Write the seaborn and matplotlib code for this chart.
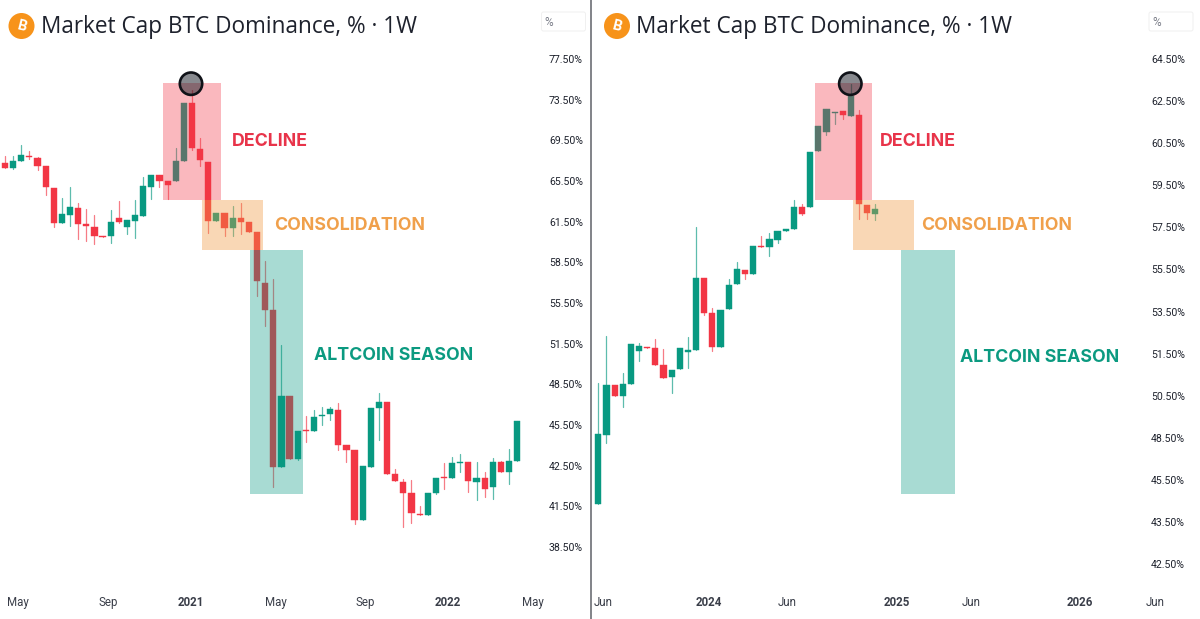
import numpy as np
import pandas as pd
import matplotlib
matplotlib.use('Agg')
import matplotlib.pyplot as plt
from matplotlib.patches import Rectangle, Circle, FancyBboxPatch
import seaborn as sns

sns.set_style("white")
plt.rcParams['font.family'] = ['Roboto', 'DejaVu Sans']

# left chart, weekly candles 2020-2022
left_open = [67.26, 66.77, 67.45, 67.94, 67.71, 66.96, 64.84, 61.38, 62.19, 62.81, 61.31, 61.11, 60.44, 60.46, 61.86, 61.13,
             61.54, 62.09, 64.90, 66.05, 65.46, 65.49, 67.45, 73.14, 68.60, 67.39, 61.60, 62.35, 61.03, 61.89, 61.46, 60.71,
             57.01, 54.78, 42.47, 47.67, 42.97, 45.13, 45.03, 46.14, 46.29, 46.61, 44.00, 43.68, 40.52, 42.47, 46.76, 47.16,
             42.30, 42.09, 41.82, 40.94, 40.89, 41.82, 42.22, 42.20, 42.69, 42.74, 42.11, 42.20, 41.97, 42.74, 42.35, 42.84]
left_close = [66.77, 67.45, 68.01, 67.81, 67.00, 64.90, 61.41, 62.22, 62.97, 61.36, 61.18, 60.46, 60.39, 61.51, 61.50, 61.63,
              62.16, 65.00, 66.11, 65.49, 65.07, 67.42, 73.14, 68.73, 67.58, 61.57, 62.38, 61.06, 61.89, 61.50, 60.71, 57.11,
              54.81, 42.47, 47.67, 42.97, 45.08, 45.05, 46.12, 46.22, 46.66, 44.00, 43.65, 40.52, 42.49, 46.76, 47.20, 42.30,
              42.12, 41.83, 40.98, 40.86, 41.82, 42.20, 42.20, 42.67, 42.77, 42.12, 42.20, 41.93, 42.74, 42.35, 42.84, 45.82]
left_high = [67.94, 67.94, 68.99, 68.43, 67.81, 66.96, 64.84, 63.79, 64.87, 63.30, 62.78, 62.12, 60.44, 62.65, 63.56, 61.63,
             63.63, 65.92, 66.11, 66.05, 65.46, 68.70, 73.14, 74.42, 69.77, 67.39, 62.38, 62.35, 63.07, 63.37, 61.46, 60.71,
             58.60, 57.25, 51.43, 47.67, 45.08, 46.17, 46.61, 46.81, 46.86, 47.11, 44.00, 43.68, 42.49, 46.76, 47.85, 47.16,
             42.41, 42.16, 42.15, 41.50, 41.82, 42.20, 42.72, 43.16, 43.36, 42.74, 42.74, 42.35, 43.04, 42.84, 43.70, 45.82]
left_low = [66.77, 66.67, 67.45, 67.62, 66.57, 64.15, 61.13, 61.38, 61.21, 60.24, 60.04, 59.82, 60.39, 59.94, 61.38, 60.59,
            60.27, 62.09, 63.76, 64.93, 63.69, 65.49, 67.45, 68.53, 67.00, 60.64, 61.60, 60.44, 60.44, 60.59, 60.71, 56.03,
            53.19, 41.98, 42.47, 42.97, 42.92, 44.24, 45.03, 45.53, 45.87, 43.65, 42.74, 40.23, 40.52, 42.47, 44.39, 42.30,
            42.12, 39.94, 40.28, 40.86, 40.89, 41.80, 41.92, 42.20, 42.35, 41.86, 41.65, 41.73, 41.69, 42.35, 42.05, 42.84]

# right chart, weekly candles 2023-2024
right_open = [44.33, 48.64, 50.75, 50.50, 50.77, 51.64, 51.83, 51.77, 51.23, 50.95, 51.13, 51.59, 51.67, 55.08, 53.45, 51.83, 53.61, 54.81,
              55.47, 55.28, 56.63, 56.55, 56.89, 57.33, 57.42, 58.45, 58.47, 60.31, 61.02, 61.95, 62.03, 61.78, 61.83, 58.56, 58.12]
right_close = [48.70, 50.75, 50.50, 50.77, 51.96, 51.85, 51.78, 51.23, 50.93, 51.11, 51.78, 51.66, 55.08, 53.42, 51.80, 53.58, 54.77, 55.50,
               55.30, 56.62, 56.55, 56.97, 57.33, 57.41, 58.47, 58.15, 60.30, 61.31, 62.11, 61.99, 61.83, 62.74, 58.63, 58.18, 58.39]
right_high = [50.81, 52.32, 50.75, 51.03, 51.96, 51.99, 51.83, 52.18, 51.72, 51.11, 51.78, 52.27, 57.52, 55.08, 53.67, 53.58, 55.06, 55.84,
              55.47, 56.62, 57.08, 57.25, 57.33, 57.41, 58.78, 58.63, 60.30, 61.31, 62.11, 61.99, 62.03, 63.30, 62.06, 58.56, 58.63]
right_low = [44.33, 48.16, 50.50, 49.94, 50.77, 51.33, 51.75, 51.23, 50.93, 50.57, 51.13, 51.15, 51.67, 53.32, 51.62, 51.83, 53.61, 54.81,
             55.04, 55.28, 56.55, 56.14, 56.78, 57.33, 57.42, 58.07, 58.47, 60.31, 60.91, 61.40, 61.67, 61.78, 57.91, 57.91, 57.83]

# price axis labels (the source axis is not evenly spaced)
left_ticks = [77.5, 73.5, 69.5, 65.5, 61.5, 58.5, 55.5, 51.5, 48.5, 45.5, 42.5, 41.5, 38.5]
right_ticks = [64.5, 62.5, 60.5, 59.5, 57.5, 55.5, 53.5, 51.5, 50.5, 48.5, 45.5, 43.5, 42.5]

# time axis labels, position in weeks from first candle
left_time_labels = ['May', 'Sep', '2021', 'May', 'Sep', '2022', 'May']
left_time_pos = [1.6, 12.7, 22.9, 33.3, 44.3, 54.5, 64.9]
right_time_labels = ['Jun', '2024', 'Jun', '2025', 'Jun', '2026', 'Jun']
right_time_pos = [0.6, 13.6, 23.2, 36.6, 45.7, 59.1, 68.3]

GREEN = '#089981'
RED = '#f23645'
ORANGE = '#f0983e'
W, H = 1200, 619
TITLE = 'Market Cap BTC Dominance, % \u00b7 1W'


def make_scale(ticks):
    # every labelled tick sits one step apart, straight line past the ends
    vals = np.array(ticks[::-1], dtype=float)
    steps = np.arange(len(vals), dtype=float)
    vals = np.r_[vals[0] - 300, vals, vals[-1] + 300]
    steps = np.r_[-100.0, steps, steps[-1] + 100]
    return (lambda v: np.interp(v, vals, steps)), (lambda s: np.interp(s, steps, vals))


def draw_candles(ax, opens, closes, highs, lows):
    df = pd.DataFrame({'week': np.arange(len(opens)), 'open': opens, 'close': closes, 'high': highs, 'low': lows})
    df['side'] = np.where(df['close'] >= df['open'], 'up', 'down')
    df['bottom'] = df[['open', 'close']].min(axis=1)
    df['body'] = (df['close'] - df['open']).abs()

    wicks = df.melt(id_vars=['week', 'side'], value_vars=['high', 'low'], value_name='price')
    sns.lineplot(data=wicks, x='week', y='price', units='week', estimator=None, hue='side',
                 palette={'up': GREEN, 'down': RED}, legend=False, linewidth=0.9, alpha=0.65, ax=ax)

    for side, color in [('up', GREEN), ('down', RED)]:
        part = df[df['side'] == side]
        sns.barplot(data=part, x='week', y='body', bottom=part['bottom'].values, native_scale=True, color=color,
                    saturation=1, width=0.76, errorbar=None, edgecolor=color, linewidth=0.3, ax=ax)


def setup_axis(ax, ticks, scale, time_pos, time_labels, xlim, px_last, px_step, y0, y1, pad):
    forward, inverse = scale
    ax.set_yscale('function', functions=(forward, inverse))
    ax.set_ylim(inverse((px_last - y1) / px_step), inverse((px_last - y0) / px_step))
    ax.set_xlim(*xlim)
    ax.yaxis.set_ticks_position('right')
    ax.set_yticks(ticks)
    ax.set_yticklabels([f'{t:.2f}%' for t in ticks], ha='right', fontsize=7.6, color='#1e222d')
    ax.minorticks_off()
    ax.tick_params(axis='y', length=0, pad=pad, which='both')
    ax.set_xticks(time_pos)
    ax.set_xticklabels(time_labels, fontsize=8.3, color='#3a3e49')
    ax.tick_params(axis='x', length=0, pad=4.6)
    for lab in ax.get_xticklabels():
        if lab.get_text().isdigit():
            lab.set_fontweight('bold')
    ax.set_xlabel('')
    ax.set_ylabel('')
    ax.grid(False)
    sns.despine(ax=ax, left=True, bottom=True, right=True, top=True)
    ax.patch.set_alpha(0)


def header(over, x_icon, x_text, box_x0):
    over.add_patch(Circle((x_icon, 26), 13, fc='#f7931a', ec='none'))
    over.text(x_icon, 26.5, 'B', color='white', fontsize=10.5, fontweight='bold', ha='center', va='center', rotation=-14)
    over.text(x_text, 27, TITLE, fontsize=16.25, family=['Open Sans', 'DejaVu Sans'], color='#1e222d', ha='left', va='center')
    over.add_patch(FancyBboxPatch((box_x0, 12), 44, 19, boxstyle='round,pad=0,rounding_size=2', fc='white', ec='#f0f0f0', lw=0.7))
    over.text(box_x0 + 3, 22, '%', fontsize=8.5, color='#787b86', ha='left', va='center')


def zones(over, xs, circle_x, labels):
    # xs: decline, consolidation and altcoin season spans
    over.add_patch(Rectangle((xs[0], 83), xs[1] - xs[0], 117, fc=RED, alpha=0.35, lw=0))
    over.add_patch(Rectangle((xs[2], 200), xs[3] - xs[2], 50, fc=ORANGE, alpha=0.38, lw=0))
    over.add_patch(Rectangle((xs[4], 250), xs[5] - xs[4], 244, fc=GREEN, alpha=0.35, lw=0))
    over.add_patch(Circle((circle_x, 83.7), 11.2, fc=(0.07, 0.09, 0.13, 0.5), ec='#101218', lw=1.9))
    for (x, y, txt, col) in labels:
        over.text(x, y, txt, color=col, fontsize=12.8, fontweight='bold', family=['Inter', 'DejaVu Sans'], ha='left', va='center')


fig = plt.figure(figsize=(W / 100, H / 100), dpi=100)
Y0, Y1 = 25, 590

ax_l = fig.add_axes([0, 1 - Y1 / H, 591 / W, (Y1 - Y0) / H])
draw_candles(ax_l, left_open, left_close, left_high, left_low)
setup_axis(ax_l, left_ticks, make_scale(left_ticks), left_time_pos, left_time_labels,
           (-0.615, 72.08), 547, 40.67, Y0, Y1, -5.8)

ax_r = fig.add_axes([592 / W, 1 - Y1 / H, 608 / W, (Y1 - Y0) / H])
draw_candles(ax_r, right_open, right_close, right_high, right_low)
setup_axis(ax_r, right_ticks, make_scale(right_ticks), right_time_pos, right_time_labels,
           (-0.773, 73.83), 564, 42.08, Y0, Y1, -10.8)

# overlay in image pixels for the drawn-on boxes and headers
over = fig.add_axes([0, 0, 1, 1], zorder=5)
over.set_xlim(0, W)
over.set_ylim(H, 0)
over.axis('off')

header(over, 21.5, 41, 541.5)
header(over, 617, 636, 1149)
over.plot([591, 591], [0, H], color='#77797f', lw=1.3)

zones(over, (163.3, 221, 201.7, 262.7, 249.7, 303), 191,
      [(232, 142, 'DECLINE', '#e8344a'), (274, 225, 'CONSOLIDATION', '#f0a04b'), (314, 356, 'ALTCOIN SEASON', '#0b9a80')])
zones(over, (814.7, 872.3, 853, 914, 901, 955), 850.3,
      [(880, 142, 'DECLINE', '#e8344a'), (921, 225, 'CONSOLIDATION', '#f0a04b'), (960, 358, 'ALTCOIN SEASON', '#0b9a80')])

fig.savefig('out.png', dpi=100)
